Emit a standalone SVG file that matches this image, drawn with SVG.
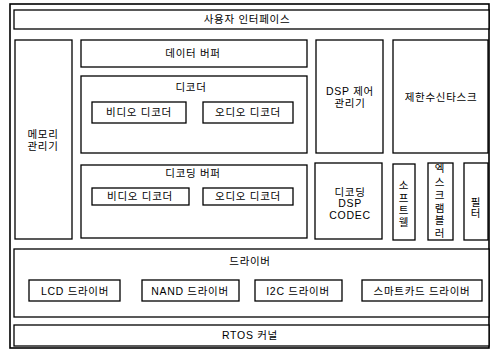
<svg xmlns="http://www.w3.org/2000/svg" width="491" height="349" viewBox="0 0 491 349">
<style>
rect{fill:#fff;stroke:#000;stroke-width:1.3}
text{font-family:"Liberation Sans","Noto Sans CJK KR",sans-serif;font-size:10.5px;fill:#000;text-anchor:middle;letter-spacing:0.7px}
</style>
<rect x="0" y="0" width="491" height="349" style="stroke:none"/>
<g id="frame"><rect x="10" y="4" width="479" height="344" style="stroke-width:1.6"/></g>
<g id="ui"><rect x="14" y="10" width="475" height="19"/><text x="247" y="23">사용자 인터페이스</text></g>
<g id="memory"><rect x="15" y="40" width="57" height="199"/><text x="43" y="138">메모리</text><text x="43" y="150">관리기</text></g>
<g id="databuffer"><rect x="81" y="40" width="226" height="27"/><text x="193" y="57">데이터 버퍼</text></g>
<g id="decoder"><rect x="81" y="76" width="226" height="77"/><text x="191" y="91">디코더</text></g>
<g id="videodec1"><rect x="92" y="102" width="94" height="21"/><text x="139" y="116">비디오 디코더</text></g>
<g id="audiodec1"><rect x="203" y="102" width="90" height="21"/><text x="248" y="116">오디오 디코더</text></g>
<g id="decbuffer"><rect x="81" y="165" width="226" height="73"/><text x="193" y="177">디코딩 버퍼</text></g>
<g id="videodec2"><rect x="92" y="188" width="97" height="17"/><text x="140" y="200">비디오 디코더</text></g>
<g id="audiodec2"><rect x="203" y="188" width="90" height="17"/><text x="248" y="200">오디오 디코더</text></g>
<g id="dspctrl"><rect x="316" y="40" width="67" height="113"/><text x="350" y="95">DSP 제어</text><text x="350" y="107">관리기</text></g>
<g id="cas"><rect x="393" y="40" width="95" height="113"/><text x="441" y="101">제한수신타스크</text></g>
<g id="dspcodec"><rect x="315" y="163" width="67" height="76"/><text x="350" y="196">디코딩</text><text x="350" y="207">DSP</text><text x="350" y="219">CODEC</text></g>
<g id="software"><rect x="393" y="164" width="22" height="76"/><text x="404" y="189">소</text><text x="404" y="202">프</text><text x="404" y="214">트</text><text x="404" y="226">웰</text></g>
<g id="descrambler"><rect x="428" y="163" width="25" height="77"/><text x="440" y="172">엑</text><text x="440" y="186">스</text><text x="440" y="199">크</text><text x="440" y="212">램</text><text x="440" y="224">블</text><text x="440" y="237">러</text></g>
<g id="filter"><rect x="464" y="163" width="24" height="77"/><text x="476" y="206">필</text><text x="476" y="217">터</text></g>
<g id="driver"><rect x="14" y="249" width="475" height="68"/><text x="250" y="265">드라이버</text></g>
<g id="lcd"><rect x="29" y="280" width="91" height="21"/><text x="75" y="295">LCD 드라이버</text></g>
<g id="nand"><rect x="142" y="280" width="97" height="21"/><text x="190" y="295">NAND 드라이버</text></g>
<g id="i2c"><rect x="255" y="280" width="87" height="21"/><text x="298" y="295">I2C 드라이버</text></g>
<g id="smartcard"><rect x="362" y="280" width="120" height="21"/><text x="422" y="295">스마트카드 드라이버</text></g>
<g id="rtos"><rect x="14" y="325" width="475" height="21"/><text x="250" y="339">RTOS 커널</text></g>
<g id="connectors"></g>
</svg>
